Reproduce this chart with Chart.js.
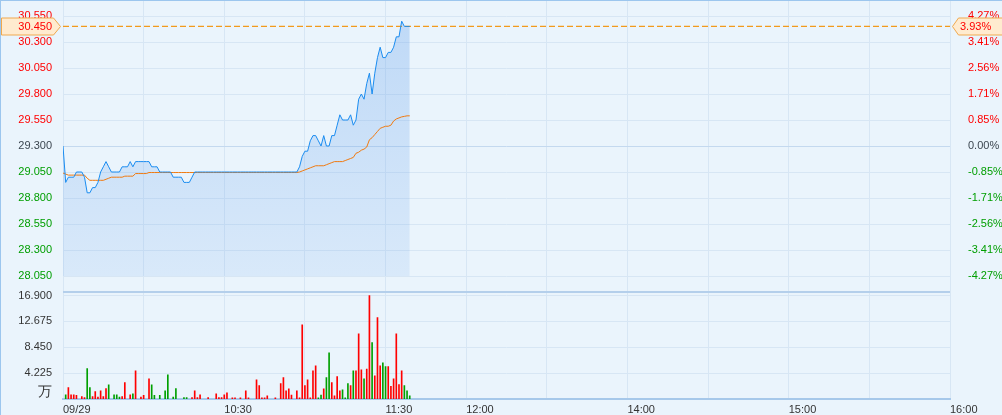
<!DOCTYPE html>
<html>
<head>
<meta charset="utf-8">
<script src="https://cdn.jsdelivr.net/npm/chart.js@4.4.1/dist/chart.umd.min.js"></script>
<style>
  html, body { margin: 0; padding: 0; background: #eaf4fc; }
</style>
</head>
<body>
<canvas id="c" width="1002" height="415"></canvas>
<script>
// ---- data ----
const prevClose = 29.30;
const lastChangePct = 3.93;   // as shown on the right tag
const priceTicks = [28.05, 28.30, 28.55, 28.80, 29.05, 29.30, 29.55, 29.80, 30.05, 30.30, 30.55];
const volTicks = [4.225, 8.45, 12.675, 16.9];
const timeTickMinutes = [0, 60, 120, 150, 210, 270, 330];
const timeTickLabels = ['09/29', '10:30', '11:30', '12:00', '14:00', '15:00', '16:00'];

// one value per minute from 09:30
const prices = [
  29.30, 28.95, 29.00, 29.00, 29.00, 29.05, 29.05, 29.05, 29.00, 28.85,
  28.85, 28.90, 28.90, 28.95, 29.05, 29.10, 29.15, 29.10, 29.05, 29.05,
  29.05, 29.05, 29.10, 29.10, 29.10, 29.15, 29.10, 29.15, 29.15, 29.15,
  29.15, 29.15, 29.15, 29.10, 29.10, 29.10, 29.05, 29.05, 29.05, 29.05,
  29.05, 29.00, 29.00, 29.00, 29.00, 28.95, 28.95, 28.95, 29.00, 29.05,
  29.05, 29.05, 29.05, 29.05, 29.05, 29.05, 29.05, 29.05, 29.05, 29.05,
  29.05, 29.05, 29.05, 29.05, 29.05, 29.05, 29.05, 29.05, 29.05, 29.05,
  29.05, 29.05, 29.05, 29.05, 29.05, 29.05, 29.05, 29.05, 29.05, 29.05,
  29.05, 29.05, 29.05, 29.05, 29.05, 29.05, 29.05, 29.05, 29.10, 29.20,
  29.25, 29.25, 29.35, 29.40, 29.40, 29.35, 29.30, 29.40, 29.30, 29.30,
  29.40, 29.40, 29.50, 29.60, 29.55, 29.55, 29.55, 29.60, 29.50, 29.55,
  29.75, 29.80, 29.75, 29.90, 30.00, 29.80, 30.00, 30.15, 30.25, 30.15,
  30.15, 30.20, 30.20, 30.25, 30.35, 30.35, 30.50, 30.45, 30.45, 30.45
];
const avgPrices = [
  29.04, 29.03, 29.02, 29.02, 29.02, 29.02, 29.02, 29.02, 29.02, 28.99,
  28.97, 28.97, 28.97, 28.97, 28.97, 28.97, 28.98, 28.99, 29.00, 29.00,
  29.00, 29.00, 29.00, 29.01, 29.01, 29.01, 29.01, 29.035, 29.035, 29.035,
  29.035, 29.035, 29.045, 29.045, 29.045, 29.045, 29.045, 29.045, 29.045, 29.045,
  29.045, 29.045, 29.045, 29.045, 29.045, 29.045, 29.045, 29.045, 29.045, 29.045,
  29.045, 29.045, 29.045, 29.045, 29.045, 29.045, 29.045, 29.045, 29.045, 29.045,
  29.045, 29.045, 29.045, 29.045, 29.045, 29.045, 29.045, 29.045, 29.045, 29.045,
  29.045, 29.045, 29.045, 29.045, 29.045, 29.045, 29.045, 29.045, 29.045, 29.045,
  29.045, 29.045, 29.045, 29.045, 29.045, 29.045, 29.045, 29.045, 29.05, 29.06,
  29.07, 29.08, 29.09, 29.10, 29.11, 29.11, 29.11, 29.11, 29.12, 29.13,
  29.14, 29.15, 29.15, 29.15, 29.15, 29.16, 29.17, 29.18, 29.19, 29.23,
  29.24, 29.26, 29.27, 29.29, 29.36, 29.38, 29.41, 29.44, 29.47, 29.48,
  29.49, 29.49, 29.50, 29.54, 29.56, 29.57, 29.58, 29.585, 29.59, 29.59
];

// volume (万), only minutes with trades; volUp 1 = red, 0 = green
const volMinutes = [
  1, 2, 3, 4, 5, 7, 8, 9, 10, 11,
  12, 13, 14, 15, 16, 17, 19, 20, 21, 22,
  23, 25, 26, 27, 29, 30, 32, 33, 34, 36,
  38, 39, 41, 42, 45, 46, 48, 49, 50, 51,
  54, 57, 58, 59, 60, 61, 63, 64, 66, 68,
  69, 72, 73, 74, 75, 76, 79, 81, 82, 83,
  84, 85, 87, 88, 89, 90, 91, 92, 93, 94,
  95, 96, 97, 98, 99, 100, 101, 102, 103, 104,
  105, 106, 107, 108, 109, 110, 111, 112, 113, 114,
  115, 116, 117, 118, 119, 120, 121, 122, 123, 124,
  125, 126, 127, 128, 129
];
const volValues = [
  0.7, 1.85, 0.7, 0.7, 0.6, 0.4, 0.25, 4.95, 1.85, 0.4,
  1.2, 0.3, 1.35, 0.4, 1.7, 2.3, 0.7, 0.7, 0.3, 0.4,
  2.7, 0.7, 0.85, 4.6, 0.3, 0.6, 3.3, 2.3, 0.6, 0.6,
  1.35, 3.95, 0.3, 1.7, 0.25, 0.25, 0.25, 1.35, 0.25, 0.7,
  0.25, 0.85, 0.25, 0.25, 0.7, 1.0, 0.2, 0.2, 0.2, 1.35,
  0.2, 3.15, 2.2, 0.2, 0.2, 0.5, 0.2, 2.5, 3.5, 1.35,
  1.65, 0.65, 1.35, 0.2, 12.1, 2.2, 3.15, 0.2, 4.6, 5.4,
  0.2, 0.65, 1.65, 3.5, 7.55, 2.7, 0.5, 3.65, 1.35, 1.5,
  0.2, 2.5, 2.2, 4.6, 4.6, 10.65, 4.75, 3.3, 4.9, 16.9,
  9.2, 3.8, 13.3, 5.4, 5.9, 5.3, 5.3, 2.05, 3.3, 10.65,
  2.35, 4.6, 2.2, 1.35, 0.5
];
const volUp = [
  0, 1, 1, 1, 1, 1, 1, 0, 0, 1,
  1, 1, 1, 1, 1, 0, 0, 0, 0, 1,
  1, 1, 0, 1, 1, 1, 1, 0, 0, 0,
  0, 0, 0, 0, 0, 0, 1, 1, 1, 1,
  1, 1, 1, 1, 1, 1, 1, 1, 1, 1,
  1, 1, 1, 1, 1, 1, 1, 1, 1, 1,
  1, 1, 1, 1, 1, 1, 1, 1, 1, 1,
  0, 0, 1, 0, 0, 1, 1, 1, 1, 0,
  0, 0, 1, 0, 1, 1, 1, 0, 1, 1,
  0, 1, 1, 1, 0, 0, 1, 1, 1, 1,
  1, 1, 0, 0, 0
];

// ---- layout ----
const LEFT_W = 63, RIGHT_W = 52, XAXIS_H = 16;
const PRICE_H = 290.5, VOL_H = 107.5;         // heights of the two panels
const PX_PER_YUAN = 104;                       // 0.25 per 26px
const priceMax = priceTicks[priceTicks.length - 1] + 15 / PX_PER_YUAN;
const priceMin = priceMax - PRICE_H / PX_PER_YUAN;
const volMax = volTicks[volTicks.length - 1] * VOL_H / 103.5;
const unitTick = 1.2;                          // where the 万 label sits

const lastPrice = prices[prices.length - 1];
const pct = v => (v / prevClose - 1) * 100;
const UP = '#ff0000', DOWN = '#009e00', FLAT = '#3c4650';
const colorFor = v => v > prevClose + 1e-9 ? UP : (v < prevClose - 1e-9 ? DOWN : FLAT);
const pctColor = v => v > 1e-9 ? UP : (v < -1e-9 ? DOWN : FLAT);
const FONT = '"Liberation Sans", Arial, sans-serif';
const GRID = '#d7e6f4';

// fixed axis sizes, no extra label padding around the plot
const fitY = w => s => { s.width = w; s.paddingTop = 0; s.paddingBottom = 0; };

const frame = {
  id: 'frame',
  beforeDraw(chart) {
    const c = chart.ctx;
    c.save();
    c.fillStyle = '#eaf4fc';
    c.fillRect(0, 0, chart.width, chart.height);
    c.restore();
  },
  afterDraw(chart) {
    const c = chart.ctx;
    c.save();
    c.strokeStyle = '#9cc6ee';
    c.lineWidth = 1;
    c.beginPath();
    c.moveTo(0, 0.5); c.lineTo(chart.width, 0.5);
    c.moveTo(0.5, 0); c.lineTo(0.5, chart.height);
    c.stroke();
    c.restore();
  }
};

const lastPriceTag = {
  id: 'lastPriceTag',
  afterDraw(chart) {
    const c = chart.ctx;
    const y = Math.round(chart.scales.y.getPixelForValue(lastPrice)) + 0.5;
    const r = chart.chartArea.right;
    c.save();
    c.fillStyle = '#ffebcf';
    c.strokeStyle = '#f0a94e';
    c.lineWidth = 1;
    c.beginPath();
    c.moveTo(1.5, y - 8.5); c.lineTo(53.5, y - 8.5); c.lineTo(60.5, y);
    c.lineTo(53.5, y + 8.5); c.lineTo(1.5, y + 8.5); c.closePath();
    c.fill(); c.stroke();
    c.beginPath();
    c.moveTo(r + 2.5, y); c.lineTo(r + 8.5, y - 8.5); c.lineTo(chart.width + 2, y - 8.5);
    c.lineTo(chart.width + 2, y + 8.5); c.lineTo(r + 8.5, y + 8.5); c.closePath();
    c.fill(); c.stroke();
    c.font = '11px ' + FONT;
    c.fillStyle = colorFor(lastPrice);
    c.textBaseline = 'middle';
    c.textAlign = 'right';
    c.fillText(lastPrice.toFixed(3), 52, y + 0.5);
    c.textAlign = 'left';
    c.fillText(lastChangePct.toFixed(2) + '%', r + 10, y + 0.5);
    c.restore();
  }
};

const priceFill = ctx => {
  const chart = ctx.chart;
  if (!chart.chartArea) return 'rgba(100,160,235,0.25)';
  const ys = chart.scales.y;
  const g = chart.ctx.createLinearGradient(0, ys.getPixelForValue(priceTicks[priceTicks.length - 1]), 0, ys.getPixelForValue(priceTicks[0]));
  g.addColorStop(0, 'rgba(100,160,235,0.32)');
  g.addColorStop(1, 'rgba(100,160,235,0.13)');
  return g;
};

new Chart(document.getElementById('c'), {
  type: 'line',
  data: {
    datasets: [
      {
        label: 'price',
        data: prices.map((p, i) => ({ x: i, y: p })),
        yAxisID: 'y',
        borderColor: '#1a8cf0',
        borderWidth: 1,
        pointRadius: 0,
        tension: 0,
        fill: { value: priceTicks[0] },
        backgroundColor: priceFill,
        order: 1
      },
      {
        label: 'average',
        data: avgPrices.map((p, i) => ({ x: i, y: p })),
        yAxisID: 'y',
        borderColor: '#f07a10',
        borderWidth: 1,
        pointRadius: 0,
        fill: false,
        order: 2
      },
      {
        label: 'last',
        data: [{ x: 0, y: lastPrice }, { x: 330, y: lastPrice }],
        yAxisID: 'y',
        borderColor: '#f29a1c',
        borderWidth: 1.2,
        borderDash: [6, 3],
        pointRadius: 0,
        fill: false,
        order: 3
      },
      {
        type: 'bar',
        label: 'volume',
        data: volMinutes.map((m, k) => ({ x: m, y: volValues[k] })),
        yAxisID: 'yv',
        backgroundColor: volUp.map(u => u ? '#ff0000' : '#00a000'),
        barThickness: 1,
        order: 4
      }
    ]
  },
  options: {
    responsive: false,
    animation: false,
    devicePixelRatio: 1,
    layout: { padding: { top: 1, left: 0, right: 0, bottom: 0 } },
    plugins: {
      legend: { display: false },
      tooltip: { enabled: false },
      filler: { drawTime: 'beforeDatasetsDraw' }
    },
    scales: {
      x: {
        type: 'linear',
        position: 'bottom',
        offset: false,
        min: 0,
        max: 330,
        afterFit: s => { s.height = XAXIS_H; s.paddingLeft = 0; },
        grid: { color: GRID, drawTicks: false, offset: false },
        border: { color: '#a6c8ea', width: 2 },
        ticks: {
          stepSize: 30,
          autoSkip: false,
          maxRotation: 0,
          align: 'start',
          padding: 4,
          color: '#333',
          font: { family: FONT, size: 11 },
          callback: v => {
            const k = timeTickMinutes.indexOf(v);
            return k < 0 ? '' : timeTickLabels[k];
          }
        }
      },
      y: {
        type: 'linear',
        position: 'left',
        stack: 'L',
        stackWeight: PRICE_H,
        weight: 2,
        min: priceMin,
        max: priceMax,
        afterBuildTicks: s => { s.ticks = priceTicks.map(v => ({ value: v })); },
        afterFit: fitY(LEFT_W),
        border: { display: false },
        grid: {
          drawTicks: false,
          color: c => Math.abs(c.tick.value - prevClose) < 1e-9 ? '#c4d9ef' : GRID
        },
        ticks: {
          autoSkip: false,
          padding: 11,
          font: { family: FONT, size: 11 },
          color: c => colorFor(c.tick.value),
          callback: v => v.toFixed(3)
        }
      },
      yv: {
        type: 'linear',
        position: 'left',
        stack: 'L',
        stackWeight: VOL_H,
        weight: 1,
        min: 0,
        max: volMax,
        afterBuildTicks: s => {
          s.ticks = [{ value: unitTick }].concat(volTicks.map(v => ({ value: v })), [{ value: volMax }]);
        },
        afterFit: fitY(LEFT_W),
        border: { display: false },
        grid: {
          drawTicks: false,
          color: c => c.tick.value === unitTick ? 'rgba(0,0,0,0)' : (c.tick.value === volMax ? '#b4cfeb' : GRID),
          lineWidth: c => c.tick.value === volMax ? 2 : 1
        },
        ticks: {
          autoSkip: false,
          padding: 11,
          color: '#333',
          font: c => ({ family: FONT, size: c.tick && c.tick.value === unitTick ? 14 : 11 }),
          callback: v => v === unitTick ? '万' : (v === volMax ? '' : v.toFixed(3))
        }
      },
      yp: {
        type: 'linear',
        position: 'right',
        stack: 'R',
        stackWeight: PRICE_H,
        weight: 1,
        min: pct(priceMin),
        max: pct(priceMax),
        afterBuildTicks: s => { s.ticks = priceTicks.map(v => ({ value: pct(v) })); },
        afterFit: fitY(RIGHT_W),
        border: { display: false },
        grid: { display: false },
        ticks: {
          autoSkip: false,
          padding: 10,
          font: { family: FONT, size: 11 },
          color: c => pctColor(c.tick.value),
          callback: v => v.toFixed(2) + '%'
        }
      },
      yr: {
        type: 'linear',
        position: 'right',
        stack: 'R',
        stackWeight: VOL_H,
        weight: 2,
        afterFit: fitY(RIGHT_W),
        border: { display: false },
        grid: { display: false },
        ticks: { display: false }
      }
    }
  },
  plugins: [frame, lastPriceTag]
});
</script>
</body>
</html>
